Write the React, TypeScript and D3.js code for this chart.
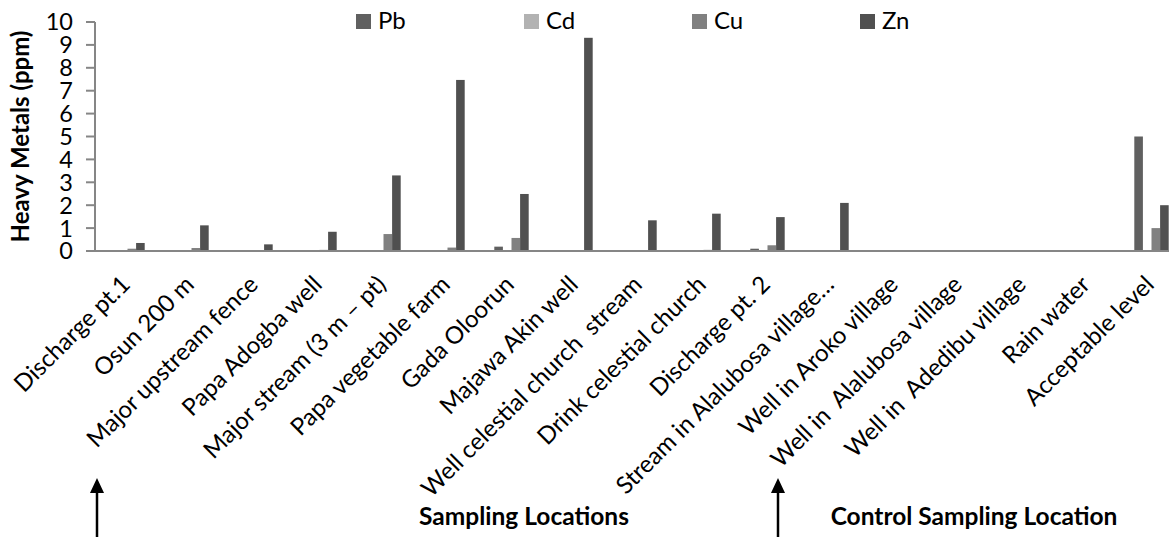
import * as d3 from "d3";

const categories = [
  "Discharge pt.1",
  "Osun 200 m",
  "Major upstream fence",
  "Papa Adogba well",
  "Major stream (3 m \u2013 pt)",
  "Papa vegetable farm",
  "Gada Oloorun",
  "Majawa Akin well",
  "Well celestial church  stream",
  "Drink celestial church",
  "Discharge pt. 2",
  "Stream in Alalubosa village\u2026",
  "Well in Aroko village",
  "Well in  Alalubosa village",
  "Well in  Adedibu village",
  "Rain water",
  "Acceptable level",
];

const metals = ["Pb", "Cd", "Cu", "Zn"];
const pb = [0, 0, 0, 0, 0, 0, 0.19, 0, 0, 0, 0.1, 0, 0, 0, 0, 0, 5];
const cd = [0.02, 0.02, 0.01, 0.03, 0.04, 0.03, 0.01, 0.03, 0, 0.02, 0.02, 0, 0, 0, 0, 0, 0];
const cu = [0.1, 0.13, 0.02, 0.05, 0.74, 0.15, 0.57, 0.03, 0, 0.05, 0.25, 0, 0, 0, 0, 0, 1];
const zn = [0.35, 1.12, 0.29, 0.84, 3.3, 7.47, 2.49, 9.31, 1.34, 1.63, 1.48, 2.1, 0, 0, 0, 0, 2];
const yTicks = [0, 1, 2, 3, 4, 5, 6, 7, 8, 9, 10];

const series = [pb, cd, cu, zn];
const colors = ["#606060", "#b2b2b2", "#808080", "#505050"];

const width = 1169;
const height = 537;
const font = "Lato, 'Open Sans', sans-serif";

export default function App() {
  const axisLeft = 95;
  const bandW = 64;
  const plotLeft = 95.5;

  const x0 = d3
    .scaleBand()
    .domain(categories)
    .range([plotLeft, plotLeft + bandW * categories.length]);
  const gap = 14.8;
  const x1 = d3.scaleBand().domain(metals).range([gap, x0.bandwidth() - gap]);
  const y = d3.scaleLinear().domain([0, 10]).range([251, 22]);

  return (
    <div style={{ position: "absolute", left: 0, top: 0 }}>
      <svg width={width} height={height} style={{ display: "block", background: "#fff" }}>
        {/* bars */}
        {categories.map((c, i) => (
          <g key={c} transform={`translate(${x0(c)},0)`}>
            {metals.map((m, j) => {
              const v = series[j][i];
              if (!v) return null;
              return (
                <rect
                  key={m}
                  x={x1(m)}
                  y={y(v)}
                  width={x1.bandwidth()}
                  height={y(0) - y(v)}
                  fill={colors[j]}
                />
              );
            })}
          </g>
        ))}

        {/* y axis */}
        <line x1={axisLeft} x2={axisLeft} y1={y(10)} y2={y(0)} stroke="#868686" strokeWidth={2} />
        {yTicks.map((t) => (
          <g key={t}>
            <line x1={axisLeft - 9} x2={axisLeft} y1={y(t)} y2={y(t)} stroke="#868686" strokeWidth={2} />
            <text
              x={73}
              y={y(t)}
              dy="0.36em"
              textAnchor="end"
              fontFamily={font}
              fontSize={23.5}
              fill="#000"
            >
              {t}
            </text>
          </g>
        ))}
        {/* x axis */}
        <line x1={axisLeft} x2={width} y1={y(0)} y2={y(0)} stroke="#868686" strokeWidth={2} />

        {/* category labels */}
        {categories.map((c) => (
          <text
            key={c}
            transform={`translate(${(x0(c) as number) + x0.bandwidth() / 2 + 4},286) rotate(-45)`}
            textAnchor="end"
            fontFamily={font}
            fontSize={24}
            fill="#000"
            style={{ whiteSpace: "pre" }}
          >
            {c}
          </text>
        ))}

        {/* y title */}
        <text
          transform={`translate(29,${(y(0) + y(10)) / 2}) rotate(-90)`}
          textAnchor="middle"
          fontFamily={font}
          fontWeight="bold"
          fontSize={24}
          fill="#000"
        >
          Heavy Metals (ppm)
        </text>

        {/* legend */}
        {metals.map((m, j) => (
          <g key={m} transform={`translate(${356 + j * 168},14)`}>
            <rect width={15} height={15} fill={colors[j]} />
            <text x={22} y={15} fontFamily={font} fontSize={24} fill="#000">
              {m}
            </text>
          </g>
        ))}

        {/* section titles */}
        <text x={524} y={525} textAnchor="middle" fontFamily={font} fontWeight="bold" fontSize={24.5}>
          Sampling Locations
        </text>
        <text x={974} y={525} textAnchor="middle" fontFamily={font} fontWeight="bold" fontSize={24.5}>
          Control Sampling Location
        </text>

        {/* arrows */}
        {[97, 778].map((ax) => (
          <g key={ax}>
            <line x1={ax} x2={ax} y1={490} y2={height} stroke="#000" strokeWidth={2.5} />
            <path d={`M${ax - 7},${493} L${ax},${478} L${ax + 7},${493} Z`} fill="#000" />
          </g>
        ))}
      </svg>
    </div>
  );
}
